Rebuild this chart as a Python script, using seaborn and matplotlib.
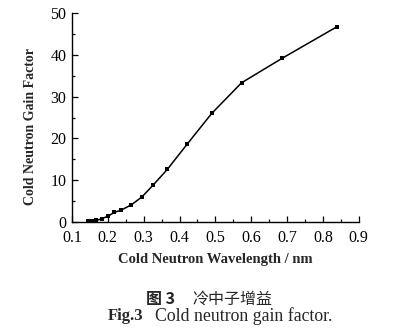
import matplotlib
matplotlib.use("Agg")
import matplotlib.pyplot as plt
import seaborn as sns
import pandas as pd
from matplotlib.ticker import MultipleLocator

wavelength = [0.146, 0.157, 0.168, 0.183, 0.200, 0.218, 0.238, 0.265, 0.295,
              0.327, 0.366, 0.421, 0.490, 0.573, 0.687, 0.839]
gain = [0.16, 0.2, 0.4, 0.8, 1.4, 2.3, 2.9, 4.1, 6.0,
        8.9, 12.6, 18.6, 26.0, 33.3, 39.2, 46.7]
x_ticks = [0.1, 0.2, 0.3, 0.4, 0.5, 0.6, 0.7, 0.8, 0.9]
y_ticks = [0, 10, 20, 30, 40, 50]

df = pd.DataFrame({"wavelength": wavelength, "gain": gain})

sns.set_style("ticks")
plt.rcParams['font.family'] = ['Liberation Serif', 'Noto Sans CJK SC']

fig = plt.figure(figsize=(4.11, 3.32), dpi=100)
ax = fig.add_axes([0.175, 0.331, 0.698, 0.630])
sns.lineplot(data=df, x="wavelength", y="gain", ax=ax, color="black",
             linewidth=1.1, marker="s", markersize=2.6, markeredgewidth=0)

ax.set_xlim(0.1, 0.9)
ax.set_ylim(0, 50)
ax.set_xticks(x_ticks)
ax.set_yticks(y_ticks)
ax.set_xticklabels([f"{t:.1f}" for t in x_ticks])
ax.xaxis.set_minor_locator(MultipleLocator(0.05))
ax.yaxis.set_minor_locator(MultipleLocator(5))
ax.tick_params(which="both", direction="in", labelsize=11.5, width=0.9, colors="black")
ax.tick_params(which="major", length=4)
ax.tick_params(which="minor", length=2.5)
ax.tick_params(axis="x", which="both", pad=5.5)
ax.tick_params(axis="y", which="both", pad=4)
for s in ["top", "right"]:
    ax.spines[s].set_visible(False)
for s in ["left", "bottom"]:
    ax.spines[s].set_linewidth(1.0)
    ax.spines[s].set_color("black")

ax.set_xlabel("Cold Neutron Wavelength / nm", fontsize=10.5, fontweight="bold", labelpad=5)
ax.set_ylabel("Cold Neutron Gain Factor", fontsize=10, fontweight="bold")
ax.yaxis.set_label_coords(-0.122, 0.457)

cjk = ['Noto Sans CJK SC', 'DejaVu Sans']
fig.text(0.426, 0.099, "图 3", fontsize=11.5, fontweight="bold",
         family=cjk, ha="right", va="center")
fig.text(0.467, 0.099, "冷中子增益", fontsize=11.5,
         family=cjk, ha="left", va="center")
fig.text(0.263, 0.048, "Fig.3", fontsize=12, fontweight="bold", ha="left", va="center")
fig.text(0.377, 0.048, "Cold neutron gain factor.", fontsize=12.8, ha="left", va="center")

fig.savefig("out.png", dpi=100)
